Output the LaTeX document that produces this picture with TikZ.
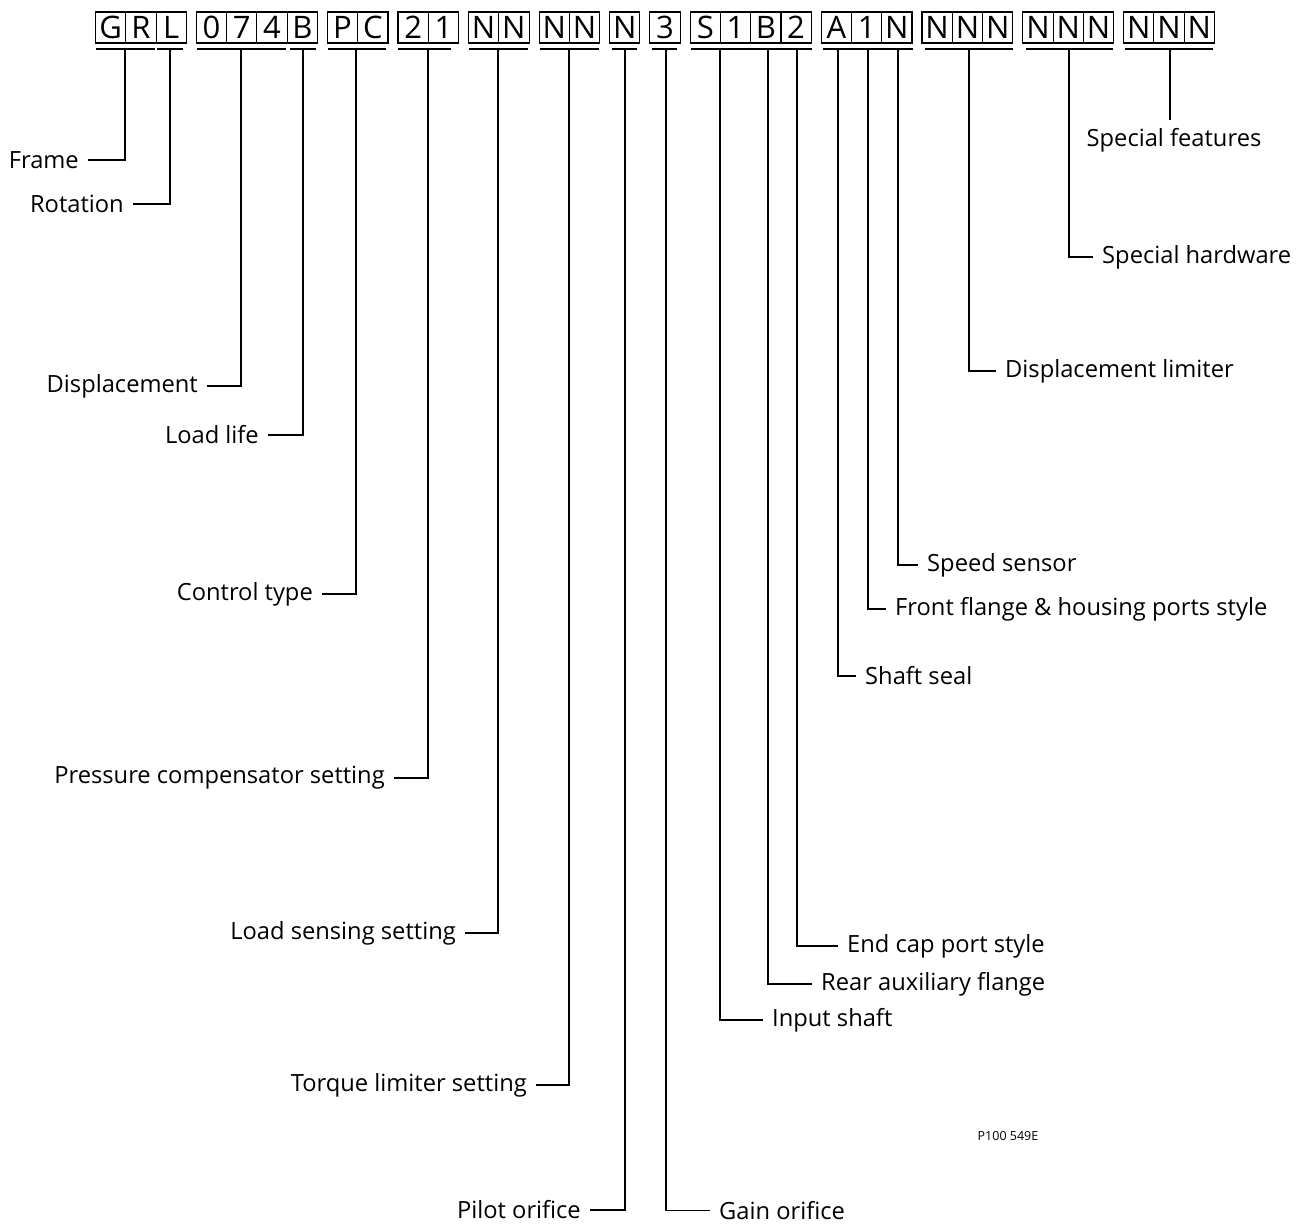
\documentclass[tikz,border=0pt]{standalone}
\usepackage{fontspec}
\setmainfont{Open Sans}
\begin{document}
\begin{tikzpicture}[x=1pt,y=-1pt,
  cbox/.style={draw,line width=1.1pt,minimum width=30.27pt,minimum height=31pt,inner sep=0pt,anchor=west,font=\fontsize{31}{31}\selectfont},
  leader/.style={line width=1.2pt},
  ulin/.style={line width=1.2pt},
  llab/.style={anchor=east,inner xsep=9pt,inner ysep=0pt,font=\fontsize{23.7}{28}\selectfont},
  rlab/.style={anchor=west,inner xsep=9pt,inner ysep=0pt,font=\fontsize{23.7}{28}\selectfont}]
\useasboundingbox (0,0) rectangle (1297,1225);
% boxes
\newcommand{\grp}[3]{% #1 start x, #2 list of chars, #3 prefix
  \foreach \c [count=\i from 0] in {#2}{
    \node[cbox] (#3\i) at ({#1+\i*30.27},27.5) {\c};
  }}
\grp{95}{G,R,L}{ga}
\grp{195.81}{0,7,4,B}{gb}
\grp{326.89}{P,C}{gc}
\grp{397.43}{2,1}{gd}
\grp{467.97}{N,N}{ge}
\grp{538.51}{N,N}{gf}
\grp{609.05}{N}{gg}
\grp{649.32}{3}{gh}
\grp{689.59}{S,1,B,2}{gi}
\grp{820.67}{A,1,N}{gj}
\grp{921.48}{N,N,N}{gk}
\grp{1022.29}{N,N,N}{gl}
\grp{1123.1}{N,N,N}{gm}
% underlines
\foreach \a/\b in {96/155,157/183,197/286,290/316,328/386,398/451,469/528,540/599,612/637,652/677,691/812,823/913,925/1013,1026/1113,1125/1213}
  \draw[ulin] (\a,49) -- (\b,49);
% underline connection points
\coordinate (uFrame) at (125,49);
\coordinate (uRot) at (170,49);
\coordinate (uDisp) at (241,49);
\coordinate (uLoad) at (303,49);
\coordinate (uCtrl) at (356,49);
\coordinate (uPress) at (428,49);
\coordinate (uLS) at (498,49);
\coordinate (uTorq) at (569,49);
\coordinate (uPilot) at (625,49);
\coordinate (uGain) at (666,49);
\coordinate (uShaft) at (720,49);
\coordinate (uRear) at (768,49);
\coordinate (uEnd) at (797,49);
\coordinate (uSeal) at (838,49);
\coordinate (uFront) at (868,49);
\coordinate (uSpeed) at (898,49);
\coordinate (uDL) at (969,49);
\coordinate (uSH) at (1069,49);
\coordinate (uSF) at (1170,49);
% labels
\node[llab] (lFrame) at (88,160) {Frame};
\node[llab] (lRot) at (133,204) {Rotation};
\node[llab] (lDisp) at (207,386) {Displacement};
\node[llab] (lLoad) at (268,435) {Load life};
\node[llab] (lCtrl) at (322,594) {Control type};
\node[llab] (lPress) at (394,778) {Pressure compensator setting};
\node[llab] (lLS) at (465,933) {Load sensing setting};
\node[llab] (lTorq) at (536,1085) {Torque limiter setting};
\node[llab] (lPilot) at (590,1210) {Pilot orifice};
\node[rlab] (lGain) at (710,1210.5) {Gain orifice};
\node[rlab] (lShaft) at (763,1020) {Input shaft};
\node[rlab] (lRear) at (812,984) {Rear auxiliary flange};
\node[rlab] (lEnd) at (838,946) {End cap port style};
\node[rlab] (lSeal) at (856,676) {Shaft seal};
\node[rlab] (lFront) at (886,609) {Front flange \& housing ports style};
\node[rlab] (lSpeed) at (918,565) {Speed sensor};
\node[rlab] (lDL) at (996,371) {Displacement limiter};
\node[rlab] (lSH) at (1093,257) {Special hardware};
\node[anchor=north,inner sep=0pt,font=\fontsize{23.7}{28}\selectfont] (lSF) at (1174,128) {Special features};
% leaders
\foreach \u/\l in {uFrame/lFrame,uRot/lRot,uDisp/lDisp,uLoad/lLoad,uCtrl/lCtrl,uPress/lPress,uLS/lLS,uTorq/lTorq,uPilot/lPilot}
  \draw[leader] (\u) |- (\l.east);
\foreach \u/\l in {uGain/lGain,uShaft/lShaft,uRear/lRear,uEnd/lEnd,uSeal/lSeal,uFront/lFront,uSpeed/lSpeed,uDL/lDL,uSH/lSH}
  \draw[leader] (\u) |- (\l.west);
\draw[leader] (uSF) -- ([yshift=8pt]uSF |- lSF.north);
\node[font=\fontsize{12.5}{15}\selectfont,inner sep=0pt] (code) at (1008,1136) {P100 549E};
\end{tikzpicture}
\end{document}
